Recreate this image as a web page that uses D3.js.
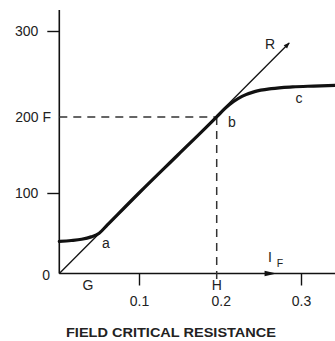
<!DOCTYPE html>
<html>
<head>
<meta charset="utf-8">
<script src="https://cdn.jsdelivr.net/npm/d3@7/dist/d3.min.js"></script>
<style>
  html, body { margin: 0; padding: 0; background: #fff; }
  svg { display: block; }
</style>
</head>
<body>
<script>
// Field current vs. voltage: magnetisation curve and critical field resistance line
const yTicks = [100, 300];
const xTicks = [0.1, 0.2, 0.3];
const xTickLabels = ["0.1", "0.2", "0.3"];

// Open-circuit characteristic (field current, generated voltage)
const curveX = [0, 0.015, 0.028, 0.04, 0.05, 0.06, 0.1, 0.15, 0.2, 0.21, 0.22, 0.23, 0.245, 0.265, 0.29, 0.315, 0.345];
const curveY = [40, 41, 42.5, 45.5, 50, 60, 100, 150, 200, 210, 218, 224, 229.5, 233, 235, 236, 237];

// Critical field resistance line R (through the origin)
const lineRX = [0, 0.286];
const lineRY = [0, 286];

// Operating point b
const pointB = { x: 0.2, y: 200 };

const W = 335, H = 341;
const FONT = "Liberation Sans, Arial, sans-serif";
const INK = "#222";
const svg = d3.select("body").append("svg").attr("width", W).attr("height", H);

const x = d3.scaleLinear().domain([0, 0.1, 0.2, 0.3]).range([59.3, 139, 216.7, 301]);
const y = d3.scaleLinear().domain([0, 100, 200, 300]).range([273.5, 193, 117, 31]);

svg.append("defs").append("marker")
  .attr("id", "arrR").attr("viewBox", "0 0 10 10")
  .attr("refX", 9).attr("refY", 5)
  .attr("markerWidth", 7).attr("markerHeight", 6)
  .attr("markerUnits", "userSpaceOnUse")
  .attr("orient", "auto")
  .append("path").attr("d", "M0,1 L10,5 L0,9 Z").attr("fill", "#111");

// Axes
const yAxis = d3.axisLeft(y).tickValues(yTicks).tickSize(12).tickPadding(9).tickFormat(d3.format("d"));
const gy = svg.append("g").attr("transform", `translate(${x(0)},0)`).call(yAxis);
gy.select(".domain").remove();
gy.selectAll(".tick line").attr("stroke", "#111").attr("stroke-width", 1.4);
gy.selectAll(".tick text").attr("font-size", 14).attr("fill", INK).attr("font-family", FONT);

const xAxis = d3.axisBottom(x).tickValues(xTicks).tickSize(12).tickPadding(11)
  .tickFormat((d, i) => xTickLabels[i]);
const gx = svg.append("g").attr("transform", `translate(0,${y(0)})`).call(xAxis);
gx.select(".domain").remove();
gx.selectAll(".tick line").attr("stroke", "#111").attr("stroke-width", 1.4)
  .filter(d => d === 0.2).remove();
gx.selectAll(".tick text").attr("font-size", 14).attr("fill", INK).attr("font-family", FONT)
  .attr("dx", d => d === 0.2 ? 4 : 0);

// Axis lines
svg.append("line").attr("x1", x(0)).attr("x2", x(0)).attr("y1", y(0)).attr("y2", 10)
  .attr("stroke", "#111").attr("stroke-width", 1.6);
svg.append("line").attr("x1", x(0)).attr("x2", W).attr("y1", y(0)).attr("y2", y(0))
  .attr("stroke", "#111").attr("stroke-width", 1.6);

// Direction arrow for I_F on the x axis
const ax = x(0.271), ay = y(0);
svg.append("path")
  .attr("d", `M${ax},${ay} L${ax - 12},${ay - 2.8} L${ax - 12},${ay + 2.8} Z`)
  .attr("fill", "#111");

// Dashed guides to point b
svg.append("line").attr("x1", x(0)).attr("x2", x(pointB.x)).attr("y1", y(pointB.y)).attr("y2", y(pointB.y))
  .attr("stroke", "#333").attr("stroke-width", 1.5).attr("stroke-dasharray", "8,6");
svg.append("line").attr("x1", x(pointB.x)).attr("x2", x(pointB.x)).attr("y1", y(pointB.y)).attr("y2", y(0) + 7)
  .attr("stroke", "#333").attr("stroke-width", 1.5).attr("stroke-dasharray", "8,6");

// Resistance line R
svg.append("path")
  .datum(lineRX.map((d, i) => [d, lineRY[i]]))
  .attr("d", d3.line().x(d => x(d[0])).y(d => y(d[1])))
  .attr("fill", "none").attr("stroke", "#111").attr("stroke-width", 1.3)
  .attr("marker-end", "url(#arrR)");

// Magnetisation curve
svg.append("path")
  .datum(curveX.map((d, i) => [d, curveY[i]]))
  .attr("d", d3.line().x(d => x(d[0])).y(d => y(d[1])).curve(d3.curveMonotoneX))
  .attr("fill", "none").attr("stroke", "#111").attr("stroke-width", 3.2)
  .attr("stroke-linecap", "round");

// Text labels
const label = (t, px, py, size, anchor = "middle", weight = "normal") =>
  svg.append("text").attr("x", px).attr("y", py).attr("font-size", size)
    .attr("font-family", FONT).attr("fill", INK)
    .attr("text-anchor", anchor).attr("font-weight", weight).text(t);

label("200 F", 51, y(200) + 5, 14, "end");
label("0", 50, y(0) + 6, 14, "end");
label("G", 88, 290, 14);
label("H", x(pointB.x), 290, 14);
label("a", 106, 248, 14);
label("b", 232, 127, 14);
label("c", 299, 103, 14);
label("R", 270, 49, 14);
label("I", 270, 262, 14);
label("F", 280, 267, 10.5);
label("FIELD CRITICAL RESISTANCE", 171, 337, 13.5, "middle", "bold")
  .attr("textLength", 210).attr("lengthAdjust", "spacingAndGlyphs");
</script>
</body>
</html>
